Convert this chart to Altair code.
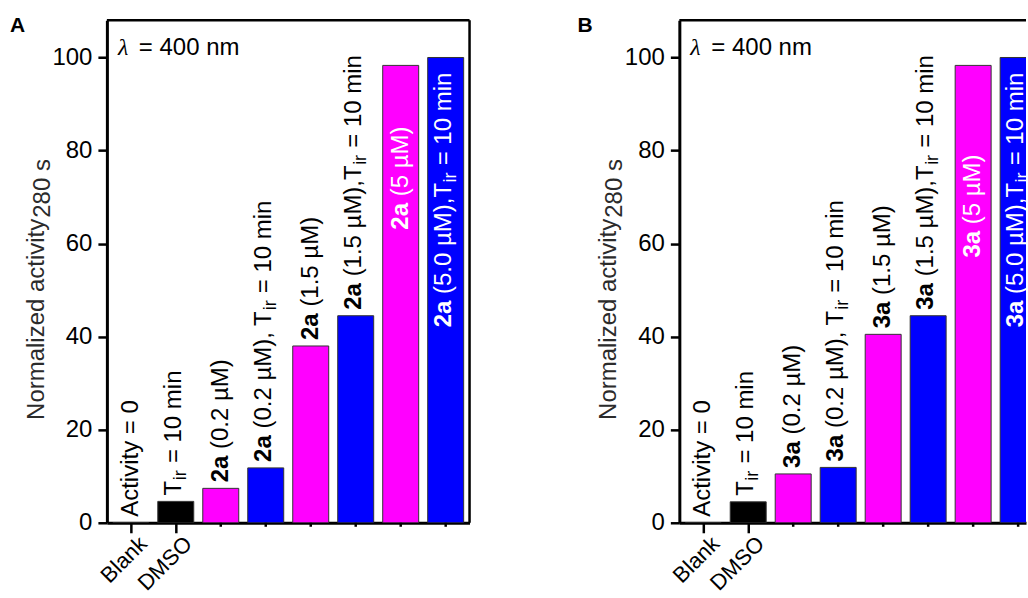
import altair as alt
import pandas as pd

# ---- data -------------------------------------------------------------
categories = ["Blank", "DMSO", "0.2 µM", "0.2 µM, Tir", "1.5 µM", "1.5 µM, Tir", "5 µM", "5.0 µM, Tir"]
tick_labels = ["Blank", "DMSO"]
values_a = [0.0, 4.6, 7.4, 11.8, 38.0, 44.5, 98.3, 100.0]
values_b = [0.0, 4.5, 10.5, 11.9, 40.5, 44.5, 98.3, 100.0]
bar_fills = ["#000000", "#000000", "#FF00FF", "#0000FF", "#FF00FF", "#0000FF", "#FF00FF", "#0000FF"]
compound_a = "2a"
compound_b = "3a"
y_ticks = [0, 20, 40, 60, 80, 100]

# bar annotations as (text, style) runs: n = normal, b = bold, s = subscript
label_parts = [
    [("Activity = 0", "n")],
    [("T", "n"), ("ir", "s"), (" = 10 min", "n")],
    [("{c}", "b"), (" (0.2 µM)", "n")],
    [("{c}", "b"), (" (0.2 µM), T", "n"), ("ir", "s"), (" = 10 min", "n")],
    [("{c}", "b"), (" (1.5 µM)", "n")],
    [("{c}", "b"), (" (1.5 µM),T", "n"), ("ir", "s"), (" = 10 min", "n")],
    [("{c}", "b"), (" (5 µM)", "n")],
    [("{c}", "b"), (" (5.0 µM),T", "n"), ("ir", "s"), (" = 10 min", "n")],
]

# labels written inside the tall bars start at these heights
inside_start_a = {6: 63, 7: 42}
inside_start_b = {6: 57, 7: 42}

# ---- styling ----------------------------------------------------------
FONT = "Liberation Sans"
FS = 24
SUB_FS = 18
GAP = 6
PLOT_H = 503
STEP = 45.03                 # pixels per category
X_LO = -0.531                # left edge of the x range, in category units
W_A, W_B = 363, 347          # panel B runs off the right edge of the figure

# Arial / Liberation Sans advance widths (1/1000 em)
REG = {' ': 278, '(': 333, ')': 333, ',': 278, '.': 278, '0': 556, '1': 556, '2': 556,
       '3': 556, '4': 556, '5': 556, '8': 556, '=': 584, 'A': 667, 'M': 833, 'T': 611,
       'N': 722, 'a': 556, 'c': 500, 'd': 556, 'e': 556, 'i': 222, 'l': 222, 'm': 833,
       'n': 556, 'o': 556, 'r': 333, 's': 500, 't': 278, 'v': 500, 'y': 500, 'z': 500,
       'µ': 576}
BOLD = {'2': 556, '3': 556, 'a': 556}


def text_width(text, style):
    table = BOLD if style == "b" else REG
    size = SUB_FS if style == "s" else FS
    return sum(table[ch] for ch in text) / 1000 * size


y_scale = alt.Scale(domain=[0, 108], nice=False)
n_named = len(tick_labels)
# labelled categories get a full tick on the axis; the rest get short ticks below
x_axis = alt.Axis(
    title=None, values=list(range(n_named)),
    labelExpr=f"{tick_labels}[datum.value]", labelAngle=-45,
    labelAlign="right", labelBaseline="alphabetic", labelOffset=17, labelPadding=12,
    labelFont=FONT, labelFontSize=22, labelColor="black", labelOverlap=False,
    tickSize=10, tickWidth=2.5, tickColor="black",
    domainColor="black", domainWidth=3, grid=False,
)
y_axis = alt.Axis(
    title=None, values=y_ticks, labelFont=FONT, labelFontSize=FS, labelColor="black",
    labelPadding=6, tickSize=9, tickWidth=2.5, tickColor="black",
    domainColor="black", domainWidth=3, grid=False,
)
Y = alt.Y("v:Q", scale=y_scale, axis=y_axis)


def fixed_text(text, x, y, **mark):
    return alt.Chart(pd.DataFrame({"t": [text]})).mark_text(**mark).encode(
        x=alt.value(x), y=alt.value(y), text="t:N")


def panel(letter, letter_x, compound, values, inside_start, width, right_frame):
    x_scale = alt.Scale(domain=[X_LO, X_LO + width / STEP], nice=False, zero=False, padding=0)
    X = alt.X("idx:Q", scale=x_scale, axis=x_axis)
    df = pd.DataFrame({"idx": list(range(len(categories))), "cat": categories,
                       "v": values, "fill": bar_fills})
    layers = [
        alt.Chart(df).mark_bar(size=36, orient="vertical", clip=True,
                               stroke="#333333", strokeWidth=1).encode(
            x=X, y=alt.Y("v:Q", scale=y_scale, axis=y_axis, stack=None),
            color=alt.Color("fill:N", scale=None)),
        alt.Chart(df[df["idx"] >= n_named]).mark_rule(color="black", strokeWidth=2.5).encode(
            x=X, y=alt.value(PLOT_H), y2=alt.value(PLOT_H + 4)),
    ]
    for i, parts in enumerate(label_parts):
        inside = i in inside_start
        anchor = inside_start[i] if inside else values[i]
        has_sub = any(style == "s" for _, style in parts)
        base_dy = -2 if has_sub else 0
        pos = 0 if inside else GAP
        for text, style in parts:
            text = text.replace("{c}", compound)
            lead = len(text) - len(text.lstrip(" "))
            pos += lead * REG[" "] / 1000 * FS
            text = text.lstrip(" ")
            if style == "s":
                pos += 0.5
            seg = pd.DataFrame({"idx": [i], "v": [anchor], "t": [text]})
            layers.append(
                alt.Chart(seg).mark_text(
                    angle=270, align="left", baseline="middle", clip=True,
                    dx=round(pos, 1), dy=base_dy + (7 if style == "s" else 0),
                    font=FONT, fontSize=SUB_FS if style == "s" else FS,
                    fontWeight="bold" if style == "b" else "normal",
                    color="white" if inside else "black",
                ).encode(x=X, y=Y, text="t:N")
            )
            pos += text_width(text, style) + (0.5 if style == "s" else 0)

    # frame: top edge, and right edge where it is in view
    one = pd.DataFrame({"k": [0]})
    layers.append(alt.Chart(one).mark_rule(color="black", strokeWidth=2.5).encode(
        x=alt.value(0), x2=alt.value(width), y=alt.value(0)))
    if right_frame:
        layers.append(alt.Chart(one).mark_rule(color="black", strokeWidth=2.5).encode(
            x=alt.value(width), y=alt.value(0), y2=alt.value(PLOT_H)))

    # y-axis title with subscript
    main = "Normalized activity"
    title_start = 400
    layers.append(fixed_text(main, -63, title_start, angle=270, align="left",
                             baseline="alphabetic", font=FONT, fontSize=FS, color="#2b2b2b"))
    layers.append(fixed_text("280 s", -57, title_start - text_width(main, "n") - 1, angle=270,
                             align="left", baseline="alphabetic", font=FONT, fontSize=FS,
                             color="#2b2b2b"))
    # wavelength note
    layers.append(fixed_text("λ", 11, 35, align="left", baseline="alphabetic",
                             font="Liberation Serif", fontStyle="italic", fontSize=FS,
                             color="black"))
    layers.append(fixed_text("= 400 nm", 32, 35, align="left", baseline="alphabetic",
                             font=FONT, fontSize=FS, color="black"))
    # panel letter
    layers.append(fixed_text(letter, letter_x, 12, align="left", baseline="alphabetic",
                             font=FONT, fontSize=21, fontWeight="bold", color="black"))
    return alt.layer(*layers).properties(width=width, height=PLOT_H)


chart = alt.hconcat(
    panel("A", -97, compound_a, values_a, inside_start_a, W_A, True),
    panel("B", -102, compound_b, values_b, inside_start_b, W_B, False),
    spacing=106,
).properties(
    padding={"left": 10, "top": 15, "right": 0, "bottom": 0}
).configure_view(strokeWidth=0)

chart.save("out.html", embed_options={"renderer": "svg", "actions": False})
